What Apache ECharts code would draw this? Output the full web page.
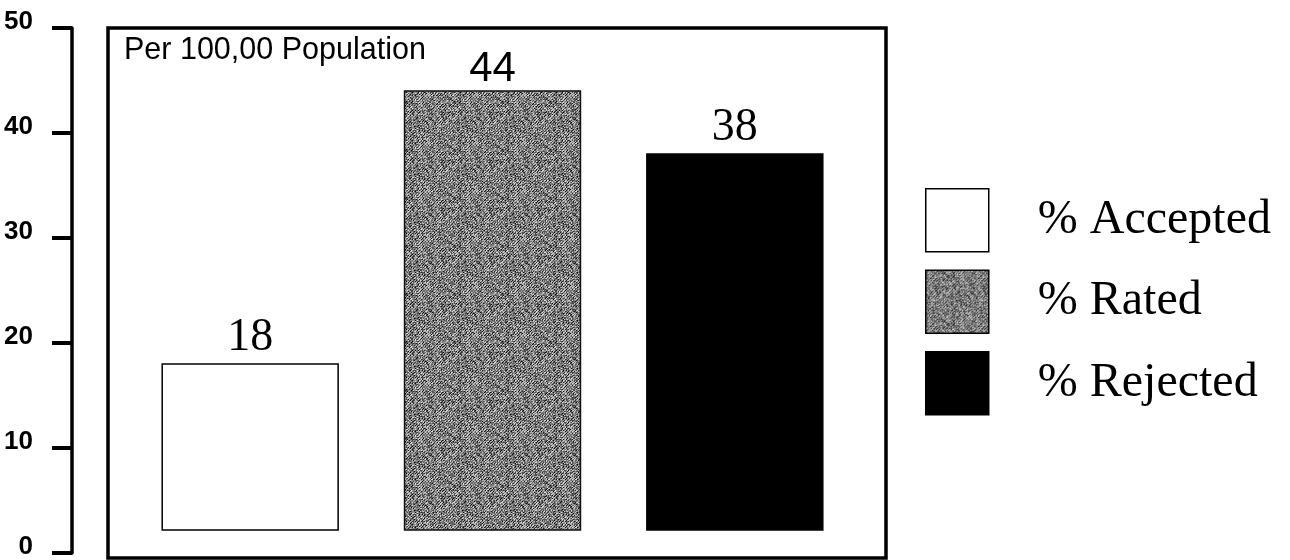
<!DOCTYPE html>
<html>
<head>
<meta charset="utf-8">
<script src="https://cdn.jsdelivr.net/npm/echarts@6/dist/echarts.min.js"></script>
<style>html,body{margin:0;padding:0;background:#fff}#c{width:1290px;height:560px}</style>
</head>
<body>
<div id="c"></div>
<script>
// ---- data ----
const categories = ['% Accepted', '% Rated', '% Rejected'];
const values = [18, 44, 38];
const yTicks = [0, 10, 20, 30, 40, 50];
const boxNote = 'Per 100,00 Population';
const barBase = 2.2; // bars are drawn from slightly above zero, as in the original

// ---- styles ----
const SERIF = '"Liberation Serif", "Times New Roman", serif';
const SANS = '"Liberation Sans", Arial, sans-serif';
function makeNoisePattern() {
  const N = 48;
  const c = document.createElement('canvas');
  c.width = N; c.height = N;
  const ctx = c.getContext('2d');
  const img = ctx.createImageData(N, N);
  let s = 12345;
  function rnd() { s = (s * 1103515245 + 12345) & 0x7fffffff; return s / 0x7fffffff; }
  for (let y = 0; y < N; y++) {
    for (let x = 0; x < N; x++) {
      const diag = ((x + y) % 3 === 0) ? -50 : 18;
      let v = 128 + diag + (rnd() - 0.5) * 160;
      v = Math.max(0, Math.min(255, v));
      const i = (y * N + x) * 4;
      img.data[i] = img.data[i + 1] = img.data[i + 2] = v;
      img.data[i + 3] = 255;
    }
  }
  ctx.putImageData(img, 0, 0);
  return { image: c, repeat: 'repeat' };
}
const grayFill = makeNoisePattern();
const fills = ['#ffffff', grayFill, '#000000'];
const borders = ['#000000', '#111111', '#000000'];
const labelFamilies = [SERIF, SANS, SERIF];
const labelSizes = [46, 42, 46];
const labelGap = [3, 1, 3];

const chart = echarts.init(document.getElementById('c'), null, { renderer: 'canvas' });

const series = categories.map((name, i) => ({
  name: name,
  type: 'custom',
  itemStyle: { color: fills[i], borderColor: borders[i], borderWidth: 1.5 },
  data: [[i, values[i]]],
  renderItem: function (params, api) {
    const x = api.value(0), v = api.value(1);
    const top = api.coord([x, v]);
    const bot = api.coord([x, barBase]);
    const w = api.size([1, 0])[0] * 0.726;
    return {
      type: 'group',
      children: [
        {
          type: 'rect',
          shape: { x: top[0] - w / 2, y: top[1], width: w, height: bot[1] - top[1] },
          style: { fill: fills[i], stroke: borders[i], lineWidth: 1.5 }
        },
        {
          type: 'text',
          x: top[0], y: top[1] - labelGap[i],
          style: {
            text: String(v), fill: '#000',
            fontSize: labelSizes[i], fontFamily: labelFamilies[i],
            align: 'center', verticalAlign: 'bottom'
          }
        }
      ]
    };
  }
}));

chart.setOption({
  animation: false,
  backgroundColor: '#fff',
  grid: { left: 129, width: 727, top: 28, height: 528 },
  xAxis: { type: 'category', data: categories, show: false },
  yAxis: {
    type: 'value', min: 0, max: 50, interval: 10,
    position: 'left', offset: 57,
    splitLine: { show: false },
    axisLine: { show: true, lineStyle: { color: '#000', width: 3.5 } },
    axisTick: { show: true, length: 20, lineStyle: { color: '#000', width: 4 } },
    axisLabel: {
      margin: 39, color: '#000',
      fontSize: 26, fontWeight: 'bold', fontFamily: SANS,
      verticalAlign: 'bottom', lineHeight: 12,
      formatter: v => yTicks.includes(v) ? String(v) : ''
    }
  },
  legend: {
    orient: 'vertical', left: 925, top: 188, padding: 0,
    icon: 'rect', itemWidth: 63, itemHeight: 63, itemGap: 17,
    selectedMode: false,
    textStyle: {
      fontSize: 48, color: '#000', fontFamily: SERIF,
      padding: [0, 0, 0, 44]
    },
    data: categories.map((n, i) => ({
      name: n,
      itemStyle: { color: fills[i], borderColor: '#000', borderWidth: 1.5 }
    }))
  },
  graphic: [
    {
      type: 'rect', z: 0,
      shape: { x: 108, y: 28, width: 778, height: 530 },
      style: { fill: 'none', stroke: '#000', lineWidth: 3.5 }
    },
    {
      type: 'text', left: 124, top: 35, z: 10,
      style: { text: boxNote, fill: '#000', fontSize: 30.5, fontFamily: SANS }
    }
  ],
  series: series
});
</script>
</body>
</html>
